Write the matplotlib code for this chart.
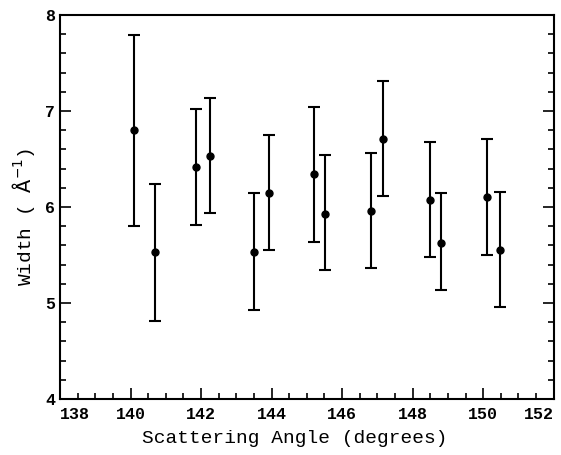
import numpy as np
import matplotlib.pyplot as plt
from matplotlib.ticker import MultipleLocator

# Values
angle = [140.11, 140.68, 141.86, 142.25, 143.49, 143.94, 145.21,
         145.52, 146.82, 147.15, 148.48, 148.79, 150.11, 150.48]
width = [6.80, 5.53, 6.42, 6.53, 5.53, 6.15, 6.34,
         5.93, 5.96, 6.71, 6.07, 5.63, 6.10, 5.55]
err_lo = [1.00, 0.72, 0.61, 0.59, 0.60, 0.60, 0.70,
          0.59, 0.60, 0.59, 0.59, 0.49, 0.60, 0.59]
err_hi = [0.99, 0.71, 0.60, 0.61, 0.62, 0.60, 0.70,
          0.61, 0.60, 0.60, 0.61, 0.52, 0.61, 0.61]
xticks = [138, 140, 142, 144, 146, 148, 150, 152]

font = 'Liberation Mono'

fig = plt.figure(figsize=(5.61, 4.55), dpi=100)
ax = fig.add_axes([0.107, 0.123, 0.880, 0.844])

ax.errorbar(angle, width, yerr=[err_lo, err_hi], fmt='o', color='black',
            markersize=5, elinewidth=1.5, capsize=4, capthick=1.5)

ax.set_xlim(xticks[0], xticks[-1])
ax.set_ylim(4, 8)
ax.set_xticks(xticks)
ax.xaxis.set_minor_locator(MultipleLocator(0.5))
ax.yaxis.set_major_locator(MultipleLocator(1))
ax.yaxis.set_minor_locator(MultipleLocator(0.2))

ax.tick_params(which='both', direction='in', top=False, right=True,
               width=1.2, labelsize=12)
ax.tick_params(which='major', length=8)
ax.tick_params(which='minor', length=4)
ax.tick_params(axis='x', pad=6)

# the outer x labels sit inside the frame, as in the original
ax.set_xticklabels([''] + [str(t) for t in xticks[1:-1]] + [''])
trans = ax.get_xaxis_transform()
ax.text(xticks[0], -0.022, str(xticks[0]), transform=trans, ha='left',
        va='top', fontsize=12, family=font, weight='bold')
ax.text(xticks[-1], -0.022, str(xticks[-1]), transform=trans, ha='right',
        va='top', fontsize=12, family=font, weight='bold')

for lbl in ax.get_xticklabels() + ax.get_yticklabels():
    lbl.set_fontfamily(font)
    lbl.set_fontweight('bold')

for sp in ax.spines.values():
    sp.set_linewidth(1.5)

ax.set_xlabel('Scattering Angle (degrees)', fontsize=14, family=font)
ax.set_ylabel(r'Width ( $\mathrm{\AA}^{-1}$)', fontsize=14, family=font)
ax.xaxis.set_label_coords(0.476, -0.08)
ax.yaxis.set_label_coords(-0.047, 0.474)

fig.savefig('out.png', dpi=100)
